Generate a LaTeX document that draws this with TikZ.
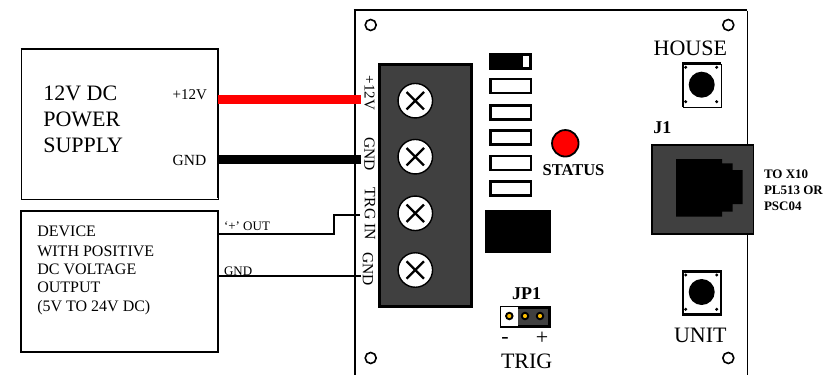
\documentclass[tikz,border=0pt]{standalone}
\usepackage{fontspec}
\setmainfont{Liberation Serif}
\newcommand{\fsz}[1]{\fontsize{#1}{#1}\selectfont}
\definecolor{blockgrey}{HTML}{404040}
\definecolor{pinyellow}{HTML}{FFC000}
\tikzset{
  x=1pt,y=-1pt,
  txt/.style={inner sep=0pt,outer sep=0pt,anchor=base west},
  ctxt/.style={inner sep=0pt,outer sep=0pt,anchor=center},
  box/.style={draw=black,fill=white,line width=1pt,inner sep=0pt,outer sep=0pt,anchor=north west},
  hole/.style={circle,draw=black,fill=white,line width=1.6pt,minimum size=11pt,inner sep=0pt},
  screw/.style={circle,draw=black,fill=white,line width=1.4pt,minimum size=34.5pt,inner sep=0pt},
  xstroke/.style={line width=2.3pt,black},
  dipsw/.style={rectangle,draw=black,fill=white,line width=2.5pt,minimum width=40.5pt,minimum height=14pt,inner sep=0pt},
  pin/.style={circle,draw=black,fill=pinyellow,line width=1.9pt,minimum size=6.5pt,inner sep=0pt},
  btndot/.style={circle,fill=black,minimum size=3.4pt,inner sep=0pt},
  btn/.style={circle,fill=black,minimum size=26pt,inner sep=0pt},
  btnbox/.style={rectangle,draw=black,fill=white,inner sep=0pt,minimum width=38pt},
  thickwire/.style={line width=8.7pt},
  thinwire/.style={line width=1.7pt,black},
  termlabel/.style={ctxt,rotate=-90,font=\fsz{15}},
}
\begin{document}
\begin{tikzpicture}
\useasboundingbox (0,0) rectangle (832,375);
% board
\coordinate (bTL) at (355,10);
\coordinate (bTR) at (747.3,10);
\coordinate (bBL) at (355,375);
\coordinate (bBR) at (747.3,375);
\draw[line width=1.4pt] ([xshift=-1.3pt]bTL) -- (bTR);
\draw[line width=1pt] ([yshift=-.7pt]bTR) -- (bBR);
\draw[line width=2.7pt] ([yshift=-.7pt]bTL) -- (bBL);
\node[hole] (h1) at (370.7,25) {};
\node[hole] (h2) at (728.3,25) {};
\node[hole] (h3) at (370.7,358) {};
\node[hole] (h4) at (728.3,358) {};
% power supply
\node[box,minimum width=197pt,minimum height=150pt] (psu) at (21,49) {};
\draw[line width=2.7pt] ([xshift=-.5pt]psu.north west) -- (psu.north east) -- ([yshift=1pt]psu.south east);
\node[txt,font=\fsz{22}] (p1) at (43.3,100) {12V DC};
\node[txt,font=\fsz{22}] (p2) at (43.3,126) {POWER};
\node[txt,font=\fsz{22}] (p3) at (43.3,152.5) {SUPPLY};
\node[txt,font=\fsz{15}] (p4) at (172.7,99.3) {+12V};
\node[txt,font=\fsz{15.5}] (p5) at (172.7,165) {GND};
% device
\node[box,minimum width=197pt,minimum height=141pt,line width=1.2pt] (dev) at (21,211) {};
\draw[line width=2.7pt] (dev.north east) -- (dev.south east) -- ([xshift=-.5pt]dev.south west);
\draw[line width=1.8pt] ([xshift=-.5pt]dev.north west) -- (dev.north east);
\node[txt,font=\fsz{16}] (d1) at (37.3,236) {DEVICE};
\node[txt,font=\fsz{16}] (d2) at (37.3,256) {WITH POSITIVE};
\node[txt,font=\fsz{16}] (d3) at (37.3,274) {DC VOLTAGE};
\node[txt,font=\fsz{16}] (d4) at (37.3,292.3) {OUTPUT};
\node[txt,font=\fsz{16}] (d5) at (37.3,311) {(5V TO 24V DC)};
\node[txt,font=\fsz{13}] (d6) at (224,230) {‘+’ OUT};
\node[txt,font=\fsz{13}] (d7) at (224,275) {GND};
% wire ends
\coordinate (t1) at (361,99.3);
\coordinate (t2) at (361,159.3);
\coordinate (t3) at (360,215.3);
\coordinate (t4) at (361,276);
\coordinate (kink) at (334.3,234.3);
\draw[thickwire,red] (psu.east |- t1) -- (t1);
\draw[thickwire,black] (psu.east |- t2) -- (t2);
\draw[thinwire] (dev.east |- kink) -- (kink) -- (kink |- t3) -- (t3);
\draw[thinwire] (dev.east |- t4) -- (t4);
% terminal block
\node[box,fill=blockgrey,line width=2.7pt,minimum width=91.7pt,minimum height=241.5pt] (blk) at (379.7,64.7) {};
\foreach \n/\yy in {1/100.7,2/156.7,3/213.3,4/270}{
  \node[screw] (s\n) at (415.3,\yy) {};
  \draw[xstroke] ([xshift=-8.7pt,yshift=-8.7pt]s\n.center) -- ([xshift=8.7pt,yshift=8.7pt]s\n.center);
  \draw[xstroke] ([xshift=-8.7pt,yshift=8.7pt]s\n.center) -- ([xshift=8.7pt,yshift=-8.7pt]s\n.center);
}
\node[termlabel] (l1) at (369.5,93) {+12V};
\node[termlabel,font=\fsz{15.5}] (l2) at (369.5,154) {GND};
\node[termlabel,font=\fsz{15.8}] (l3) at (370,214) {TRG IN};
\node[termlabel,font=\fsz{15.5}] (l4) at (368,269) {GND};
% dip switches
\node[dipsw,minimum height=14.2pt,fill=black] (sw1) at (510.5,61.7) {};
\node[rectangle,fill=white,minimum width=6pt,minimum height=10.7pt,inner sep=0pt] (sw1k) at (525.7,61.3) {};
\node[dipsw] (sw2) at (510.5,86.2) {};
\node[dipsw] (sw3) at (510.5,112.3) {};
\node[dipsw] (sw4) at (510.5,137.3) {};
\node[dipsw] (sw5) at (510.5,163) {};
\node[dipsw] (sw6) at (510.5,188.3) {};
\node[rectangle,fill=black,minimum width=66pt,minimum height=42.7pt,inner sep=0pt] (ic) at (518,231.3) {};
% LED
\node[circle,draw=black,fill=red,line width=1.8pt,minimum size=26.5pt,inner sep=0pt] (led) at (565.3,143.3) {};
\node[ctxt,font=\fsz{16.5}\bfseries] (st) at (573.5,170.5) {STATUS};
% JP1
\node[ctxt,font=\fsz{18}\bfseries] (jp) at (526.7,294) {JP1};
\node[rectangle,draw=black,fill=blockgrey,line width=2.7pt,minimum width=48.3pt,minimum height=19pt,inner sep=0pt] (hdr) at (525.5,316.8) {};
\node[rectangle,fill=white,minimum width=17pt,minimum height=19pt,inner sep=0pt] (hdw) at (509.9,316.8) {};
\node[pin] (pa) at (509.3,316) {};
\node[pin] (pb) at (525,316) {};
\node[pin] (pc) at (540,316) {};
\node[txt,anchor=base,font=\fsz{22}] (minus) at (505,343.5) {-};
\node[txt,anchor=base,font=\fsz{22}] (plus) at (542,344) {+};
\node[ctxt,font=\fsz{22}] (trig) at (526.7,361.5) {TRIG};
% buttons
\node[ctxt,font=\fsz{22}] (house) at (690.3,48) {HOUSE};
\node[btnbox,line width=1pt,minimum height=43pt] (bh) at (702.5,85.5) {};
\draw[line width=2.8pt] ([yshift=.5pt]bh.south west) -- (bh.north west) -- ([xshift=-1pt]bh.north east);
\node[btn] (bhc) at (701.7,84.7) {};
\foreach \a/\p/\q in {1/685.7/67.3,2/716.7/67.3,3/685.7/101.7,4/716.7/101.7}{\node[btndot] (bhd\a) at (\p,\q) {};}
\node[btnbox,line width=2.6pt,minimum height=43.5pt] (bu) at (702,293) {};
\node[btn] (buc) at (701.7,292) {};
\foreach \a/\p/\q in {1/685.7/275,2/716.7/275,3/685.7/309.3,4/716.7/309.3}{\node[btndot] (bud\a) at (\p,\q) {};}
\node[ctxt,font=\fsz{22}] (unit) at (700.3,335.7) {UNIT};
% J1
\node[ctxt,font=\fsz{18}\bfseries] (j1) at (662.3,127.7) {J1};
\node[box,fill=blockgrey,line width=1.6pt,minimum width=101.5pt,minimum height=89.2pt] (jack) at (651.8,144.8) {};
\fill[black] (676,159) -- (722,159) -- (722,163.3) -- (732.7,163.3) -- (732.7,170) -- (742.7,170) -- (742.7,204) -- (732.7,204) -- (732.7,211.7) -- (722,211.7) -- (722,216.7) -- (676,216.7) -- cycle;
\node[txt,font=\fsz{13}\bfseries] (o1) at (764,178) {TO X10};
\node[txt,font=\fsz{13}\bfseries] (o2) at (764,194) {PL513 OR};
\node[txt,font=\fsz{13}\bfseries] (o3) at (764,210) {PSC04};
\end{tikzpicture}
\end{document}
